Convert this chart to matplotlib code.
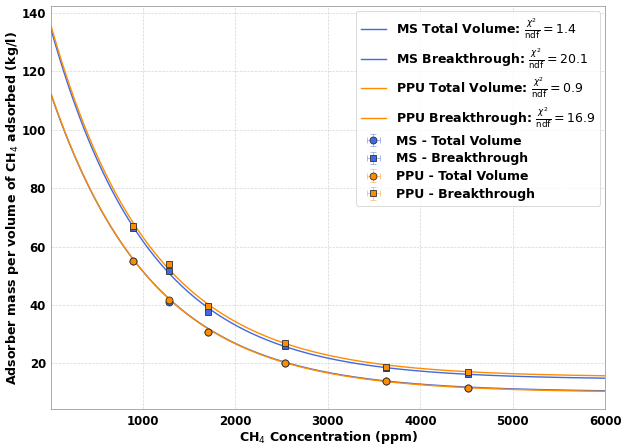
import numpy as np
import matplotlib
matplotlib.use("Agg")
import matplotlib.pyplot as plt
from matplotlib.legend_handler import HandlerErrorbar
from matplotlib.container import ErrorbarContainer

# Measured data points (ppm, kg/l)
conc = [898, 1282, 1704, 2542, 3625, 4518]
ms_total = [55.0, 41.1, 30.6, 20.2, 13.9, 11.5]
ms_break = [66.2, 51.7, 37.5, 26.0, 18.5, 16.3]
ppu_total = [55.1, 41.8, 30.7, 20.3, 14.0, 11.6]
ppu_break = [67.0, 54.1, 39.7, 27.1, 18.9, 17.1]
err_x = [20, 20, 20, 20, 20, 20]
err_y = [0.6, 0.6, 0.6, 0.6, 0.6, 0.6]

# Fit parameters (a*exp(-x/b)+c)
fit_ms_total = (102.5, 1100.0, 10.2)
fit_ms_break = (120.6, 1070.0, 14.5)
fit_ppu_total = (103.0, 1100.0, 10.0)
fit_ppu_break = (121.0, 1080.0, 15.3)
chi2 = {"ms_total": "1.4", "ms_break": "20.1", "ppu_total": "0.9", "ppu_break": "16.9"}

BLUE = "#4169E1"
ORANGE = "#FF8C00"

plt.rcParams["font.family"] = "DejaVu Sans"
plt.rcParams["font.weight"] = "normal"

fig = plt.figure(figsize=(10, 448 / 62.7), dpi=62.7)
ax = fig.add_axes([0.0818, 0.0864, 0.9654 - 0.0818, 0.9866 - 0.0864])

xs = np.linspace(10, 6000, 600)
def model(p):
    a, b, c = p
    return a * np.exp(-xs / b) + c

l1, = ax.plot(xs, model(fit_ms_total), color=BLUE, lw=1.6,
              label=r"MS Total Volume: $\frac{\chi^2}{\mathrm{ndf}} = %s$" % chi2["ms_total"])
l2, = ax.plot(xs, model(fit_ms_break), color=BLUE, lw=1.6,
              label=r"MS Breakthrough: $\frac{\chi^2}{\mathrm{ndf}} = %s$" % chi2["ms_break"])
l3, = ax.plot(xs, model(fit_ppu_total), color=ORANGE, lw=1.6,
              label=r"PPU Total Volume: $\frac{\chi^2}{\mathrm{ndf}} = %s$" % chi2["ppu_total"])
l4, = ax.plot(xs, model(fit_ppu_break), color=ORANGE, lw=1.6,
              label=r"PPU Breakthrough: $\frac{\chi^2}{\mathrm{ndf}} = %s$" % chi2["ppu_break"])

kw = dict(ls="none", ms=8, mec="#333333", mew=1.0, capsize=3, elinewidth=1)
e1 = ax.errorbar(conc, ms_total, xerr=err_x, yerr=err_y, fmt="o", color=BLUE,
                 ecolor=(0.25, 0.41, 0.88, 0.5), label="MS - Total Volume", **kw)
e2 = ax.errorbar(conc, ms_break, xerr=err_x, yerr=err_y, fmt="s", color=BLUE,
                 ecolor=(0.25, 0.41, 0.88, 0.5), label="MS - Breakthrough", **kw)
e3 = ax.errorbar(conc, ppu_total, xerr=err_x, yerr=err_y, fmt="o", color=ORANGE,
                 ecolor=(1.0, 0.55, 0.0, 0.5), label="PPU - Total Volume", **kw)
e4 = ax.errorbar(conc, ppu_break, xerr=err_x, yerr=err_y, fmt="s", color=ORANGE,
                 ecolor=(1.0, 0.55, 0.0, 0.5), label="PPU - Breakthrough", **kw)

ax.set_xlim(10, 6000)
ax.set_ylim(4.3, 142.3)
ax.set_xticks([1000, 2000, 3000, 4000, 5000, 6000])
ax.set_yticks([20, 40, 60, 80, 100, 120, 140])
ax.tick_params(axis="both", labelsize=13.5, length=0, pad=6)
for lab in ax.get_xticklabels() + ax.get_yticklabels():
    lab.set_fontweight("bold")
ax.grid(True, ls="--", color="#cccccc", lw=0.8, alpha=0.8)
for s in ax.spines.values():
    s.set_color("#888888")

ax.set_xlabel(r"CH$_4$ Concentration (ppm)", fontsize=14.5, fontweight="bold", labelpad=2)
ax.set_ylabel(r"Adsorber mass per volume of CH$_4$ adsorbed (kg/l)", fontsize=14.5,
              fontweight="bold", labelpad=1)

leg = ax.legend(handles=[l1, l2, l3, l4, e1, e2, e3, e4], loc="upper right",
                prop={"weight": "bold", "size": 14.4},
                handler_map={ErrorbarContainer: HandlerErrorbar(xerr_size=0.5, yerr_size=0.5)},
                borderaxespad=0.4, labelspacing=0.38)
leg.get_frame().set_edgecolor("#cccccc")

fig.savefig("out.png", dpi=62.7)
